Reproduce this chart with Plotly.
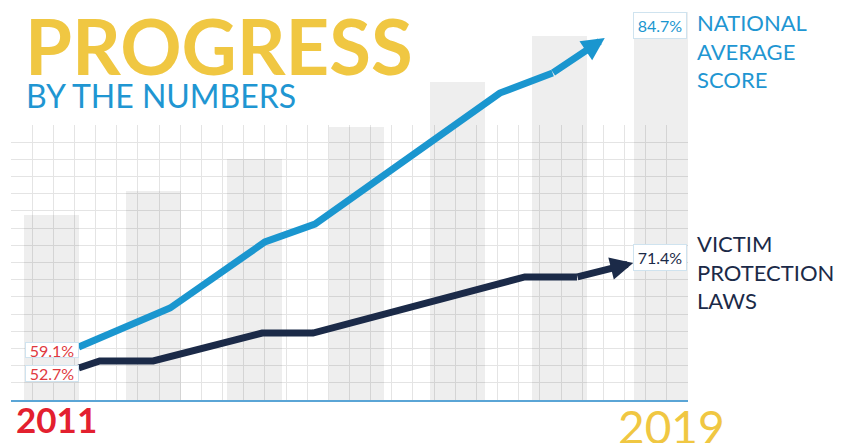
import plotly.graph_objects as go

# ---------------- data ----------------
years_blue = [2011.0, 2012.35, 2013.75, 2014.49, 2017.22, 2018.0, 2018.77]
national_avg = [59.1, 62.33, 67.80, 69.29, 80.14, 81.80, 84.7]

years_navy = [2011.0, 2011.31, 2012.10, 2013.71, 2014.46, 2017.59, 2018.36, 2019.19]
victim_laws = [52.7, 53.95, 53.95, 58.93, 58.93, 68.91, 68.91, 71.4]

bar_x = [2010.6, 2012.1, 2013.6, 2015.1, 2016.6, 2018.1, 2019.6]
bar_h = [10.76, 12.16, 14.02, 15.88, 18.50, 21.18, 22.57]

grid_cols = 32
grid_rows = 16

start_label = "2011"
end_label = "2019"
name_blue = "NATIONAL<br>AVERAGE<br>SCORE"
name_navy = "VICTIM<br>PROTECTION<br>LAWS"

# ---------------- style ----------------
YELLOW = "#f0c742"
TBLUE = "#1f96d2"
LBLUE = "#1a96cf"
NAVY = "#1b2a48"
RED = "#e3202f"
LRED = "#e0393e"
BORDER = "#cfe3ef"
GRID = "#e4e4e4"
W, H = 851, 443
L, R, T, B = 11, 163, 10, 43
PW, PH = W - L - R, H - T - B
ROW_PX = 17.1875


def px(x):
    return (x - L) / PW


def py(y):
    return (H - B - y) / PH


fig = go.Figure()

# invisible trace so the grid subplot (x/y) exists
fig.add_trace(go.Scatter(x=[0, grid_cols], y=[0, grid_rows], mode="markers",
                         marker=dict(opacity=0), xaxis="x", yaxis="y", hoverinfo="skip"))
fig.add_trace(go.Bar(x=bar_x, y=bar_h, width=0.81, marker_color="rgba(0,0,0,0.065)",
                     marker_line_width=0, xaxis="x2", yaxis="y2", hoverinfo="skip"))
fig.add_trace(go.Scatter(x=years_blue[:-1], y=national_avg[:-1], mode="lines",
                         line=dict(color=LBLUE, width=7), xaxis="x2", yaxis="y3",
                         hoverinfo="skip"))
fig.add_trace(go.Scatter(x=years_navy[:-1], y=victim_laws[:-1], mode="lines",
                         line=dict(color=NAVY, width=7), xaxis="x2", yaxis="y4",
                         hoverinfo="skip"))

ann = []
# arrow heads
for xs, ys, yref, col in [(years_blue, national_avg, "y3", LBLUE),
                          (years_navy, victim_laws, "y4", NAVY)]:
    ann.append(dict(x=xs[-1], y=ys[-1], xref="x2", yref=yref,
                    ax=xs[-2], ay=ys[-2], axref="x2", ayref=yref,
                    text="", showarrow=True, arrowhead=2, arrowwidth=7, arrowsize=0.65,
                    arrowcolor=col, standoff=0, startstandoff=0, borderpad=0,
                    font=dict(size=1)))


# value labels
def vlabel(x, y, yref, txt, color, xanchor, xshift, yshift, h):
    return dict(x=x, y=y, xref="x2", yref=yref, text=txt, showarrow=False,
                xanchor=xanchor, yanchor="middle", xshift=xshift, yshift=yshift,
                width=52, height=h, bgcolor="white", bordercolor=BORDER, borderwidth=1,
                borderpad=0, font=dict(family="Lato", size=16, color=color))


ann.append(vlabel(years_blue[0], national_avg[0], "y3", f"{national_avg[0]}%", LRED, "right", 0, -3, 14))
ann.append(vlabel(years_navy[0], victim_laws[0], "y4", f"{victim_laws[0]}%", LRED, "right", 0, -5, 15))
ann.append(vlabel(years_blue[-1], national_avg[-1], "y3", f"{national_avg[-1]}%", LBLUE, "left", 28, 13, 25))
ann.append(vlabel(years_navy[-1], victim_laws[-1], "y4", f"{victim_laws[-1]}%", NAVY, "left", 0, 6, 25))

# series names
ann.append(dict(x=px(695), y=py(51), xref="paper", yref="paper", text=name_blue,
                showarrow=False, xanchor="left", yanchor="middle", align="left",
                font=dict(family="Lato", size=22, color=TBLUE)))
ann.append(dict(x=px(695), y=py(272), xref="paper", yref="paper", text=name_navy,
                showarrow=False, xanchor="left", yanchor="middle", align="left",
                font=dict(family="Lato", size=22, color=NAVY)))

# titles
ann.append(dict(x=px(23), y=py(45), xref="paper", yref="paper", text="PROGRESS",
                showarrow=False, xanchor="left", yanchor="middle",
                font=dict(family="Lato", size=76, color=YELLOW, weight=700)))
ann.append(dict(x=px(24), y=py(95), xref="paper", yref="paper", text="BY THE NUMBERS",
                showarrow=False, xanchor="left", yanchor="middle",
                font=dict(family="Lato", size=32, color=TBLUE)))
ann.append(dict(x=px(56), y=py(419), xref="paper", yref="paper", text=start_label,
                showarrow=False, xanchor="center", yanchor="middle",
                font=dict(family="Lato", size=35, color=RED, weight=700)))
ann.append(dict(x=px(671), y=py(426), xref="paper", yref="paper", text=end_label,
                showarrow=False, xanchor="center", yanchor="middle",
                font=dict(family="Lato", size=46, color=YELLOW)))

hidden = dict(showgrid=False, zeroline=False, showticklabels=False, ticks="", showline=False)

fig.update_layout(
    width=W, height=H, margin=dict(l=L, r=R, t=T, b=B),
    paper_bgcolor="white", plot_bgcolor="rgba(0,0,0,0)", showlegend=False,
    bargap=0,
    # grid subplot
    xaxis=dict(domain=[0, 1], range=[0, grid_cols], tick0=0, dtick=1, showgrid=True,
               gridcolor=GRID, gridwidth=1, zeroline=False, showticklabels=False,
               ticks="", showline=False, anchor="y"),
    yaxis=dict(domain=[0, grid_rows * ROW_PX / PH], range=[0, grid_rows], tick0=0, dtick=1,
               showgrid=True, gridcolor=GRID, gridwidth=1, zeroline=False,
               showticklabels=False, ticks="", showline=False, anchor="x"),
    # data subplot
    xaxis2=dict(domain=[0, 1], range=[2010, 2020], anchor="y2", showgrid=False,
                zeroline=False, showticklabels=False, ticks="", showline=True,
                linecolor="#5aa5d6", linewidth=2),
    yaxis2=dict(domain=[0, 1], range=[0, PH / ROW_PX], anchor="x2", **hidden),
    yaxis3=dict(range=[54.709, 87.02], overlaying="y2", anchor="x2", **hidden),
    yaxis4=dict(range=[47.0, 116.46], overlaying="y2", anchor="x2", **hidden),
    annotations=ann,
)

fig.write_html("out.html", config={"displayModeBar": False},
               post_script="document.body.style.margin='0';")
